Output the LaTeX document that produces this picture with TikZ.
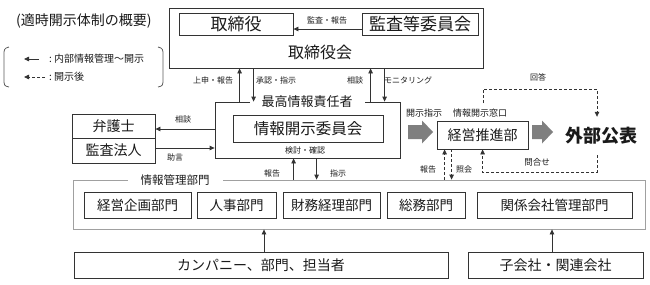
\documentclass[tikz,border=0pt]{standalone}
\usepackage{fontspec}
\setmainfont{Noto Sans CJK JP}
\usetikzlibrary{arrows.meta,calc}
\definecolor{linec}{HTML}{333333}
\definecolor{framec}{HTML}{A0A0A0}
\definecolor{arrgray}{HTML}{7F7F7F}
\definecolor{txtc}{HTML}{1A1A1A}
\newcommand{\fsz}[1]{\fontsize{#1}{#1}\selectfont}
\tikzset{
  box/.style={draw=linec, line width=0.8pt, inner sep=0pt, text=txtc},
  lbl/.style={font=\fsz{8}, inner sep=0pt, text=txtc},
  arr/.style={draw=linec, line width=0.8pt, -{Triangle[length=5pt,width=4.5pt]}},
  darr/.style={arr, dash pattern=on 3pt off 2pt},
  gaplabel/.style={fill=white, inner ysep=1pt, text=txtc},
}
\begin{document}
\begin{tikzpicture}[x=1pt,y=-1pt]
\useasboundingbox (0,0) rectangle (650,284);
\fill[white] (0,0) rectangle (650,284);

% legend
\node[font=\fsz{14}, inner sep=0pt, text=txtc, anchor=west] (title) at (16,21) {(適時開示体制の概要)};
\node[font=\fsz{10}, anchor=west, inner sep=0pt, text=txtc] (leg1) at (49,59) {:\ 内部情報管理～開示};
\node[font=\fsz{10}, anchor=west, inner sep=0pt, text=txtc] (leg2) at (49,77) {:\ 開示後};
\draw[arr] ([xshift=-10pt]leg1.west) -- ([xshift=-25pt]leg1.west);
\draw[darr] ([xshift=-4pt]leg2.west) -- ([xshift=-25pt]leg2.west);
\draw[linec!80, line width=0.8pt] (9,47) .. controls (4,48) and (4,50) .. (4,55) -- (4,79) .. controls (4,85) and (4,86) .. (9,87);
\draw[linec!80, line width=0.8pt] (158,47) .. controls (163,48) and (163,50) .. (163,55) -- (163,79) .. controls (163,85) and (163,86) .. (158,87);

% board
\node[box, minimum width=314pt, minimum height=60pt] (board) at (326,38) {};
\node[font=\fsz{16}, inner sep=0pt, text=txtc] (boardt) at (320,52) {取締役会};
\node[box, minimum width=114pt, minimum height=22pt, font=\fsz{17}] (tori) at (236,24) {取締役};
\node[box, minimum width=116pt, minimum height=22pt, font=\fsz{17}] (kansa) at (420,24) {監査等委員会};
\draw[arr] ([yshift=-5pt]kansa.west) -- ([yshift=-5pt]tori.east);
\node[lbl] (l1) at (327,20) {監査・報告};

% CIO
\node[box, minimum width=185pt, minimum height=56pt] (cio) at (307.5,130) {};
\node[gaplabel, inner xsep=12pt, font=\fsz{13}] (ciot) at (307,102) {最高情報責任者};
\node[box, minimum width=150pt, minimum height=27pt, font=\fsz{15.5}] (iin) at (308,128.5) {情報開示委員会};
\node[lbl] (l2) at (305,150) {検討・確認};

% board <-> CIO
\draw[arr] ([xshift=25pt]cio.north west) -- ([xshift=71pt]board.south west);
\draw[arr] ([xshift=85pt]board.south west) -- ([xshift=39pt]cio.north west);
\draw[arr] ([xshift=156pt]cio.north west) -- ([xshift=202pt]board.south west);
\draw[arr] ([xshift=216pt]board.south west) -- ([xshift=170pt]cio.north west);
\node[lbl] (l3) at (213,80) {上申・報告};
\node[lbl] (l4) at (276,80) {承認・指示};
\node[lbl] (l5) at (355,80) {相談};
\node[lbl] (l6) at (408,80) {モニタリング};

% lawyers
\node[box, minimum width=83pt, minimum height=24pt, font=\fsz{14}] (bengo) at (113.5,126) {弁護士};
\node[box, minimum width=83pt, minimum height=25pt, font=\fsz{14}] (hojin) at (113.5,150.5) {監査法人};
\draw[arr] ([yshift=1pt]cio.west) -- ([yshift=-3pt]bengo.east);
\draw[arr] ([yshift=2.5pt]hojin.east) -- ([yshift=-18pt]cio.west);
\node[lbl] (l7) at (183,119) {相談};
\node[lbl] (l8) at (175,157) {助言};

% information management departments
\node[draw=framec, line width=0.8pt, minimum width=572pt, minimum height=49pt, inner sep=0pt] (frame) at (359,204.5) {};
\node[gaplabel, inner xsep=13pt, font=\fsz{11.5}] (framet) at (175,180) {情報管理部門};
\node[box, minimum width=107pt, minimum height=26pt, font=\fsz{13.5}] (d1) at (137.5,205) {経営企画部門};
\node[box, minimum width=79pt, minimum height=26pt, font=\fsz{13.5}] (d2) at (236.5,205) {人事部門};
\node[box, minimum width=97pt, minimum height=26pt, font=\fsz{13.5}] (d3) at (331.5,205) {財務経理部門};
\node[box, minimum width=78pt, minimum height=26pt, font=\fsz{13.5}] (d4) at (426,205) {総務部門};
\node[box, minimum width=155pt, minimum height=26pt, font=\fsz{13.5}] (d5) at (554.5,205) {関係会社管理部門};

\draw[arr] ([xshift=221pt]frame.north west) -- ([xshift=79pt]cio.south west);
\draw[arr] ([xshift=102pt]cio.south west) -- ([xshift=244pt]frame.north west);
\node[lbl] (l9) at (272,173) {報告};
\node[lbl] (l10) at (338,173) {指示};

% bottom
\node[box, minimum width=374pt, minimum height=26pt, font=\fsz{14}] (comp) at (261,265) {カンパニー、部門、担当者};
\node[box, minimum width=175pt, minimum height=26pt, font=\fsz{14}] (sub) at (555.5,265) {子会社・関連会社};
\draw[arr] ([xshift=3pt]comp.north) -- ([xshift=-95pt]frame.south);
\draw[arr] ([xshift=-3.5pt]sub.north) -- ([xshift=193pt]frame.south);

% disclosure
\node[box, minimum width=91pt, minimum height=28pt, font=\fsz{14}] (sui) at (482.5,135) {経営推進部};
\node[font=\fsz{18}\bfseries, inner sep=0pt, minimum height=38pt, text=txtc] (pub) at (601,136) {外部公表};
\node[lbl, font=\fsz{9}] (l11) at (424,113) {開示指示};
\node[lbl, font=\fsz{9}] (l12) at (480,113) {情報開示窓口};

\fill[arrgray] (408,125) -- (422,125) -- (422,120.5) -- (433,132) -- (422,143.5) -- (422,139) -- (408,139) -- cycle;
\fill[arrgray] (532,125) -- (542,125) -- (542,120.5) -- (553,132) -- (542,143.5) -- (542,139) -- (532,139) -- cycle;

\draw[darr] ([xshift=372pt]frame.north west) -- ([xshift=8pt]sui.south west);
\draw[darr] ([xshift=15pt]sui.south west) -- ([xshift=379pt]frame.north west);
\node[lbl] (l13) at (428,169) {報告};
\node[lbl] (l14) at (464,169) {照会};

\coordinate (ans0) at (483,103);
\draw[darr] (ans0) -- ++(0,-14) -| ([xshift=-4pt]pub.north);
\draw[darr] ([xshift=-4pt]pub.south) -- ++(0,17) -| ([xshift=46pt]sui.south west);
\node[lbl] (l15) at (538,77) {回答};
\node[lbl, font=\fsz{8.5}] (l16) at (537,162) {問合せ};
\end{tikzpicture}
\end{document}
